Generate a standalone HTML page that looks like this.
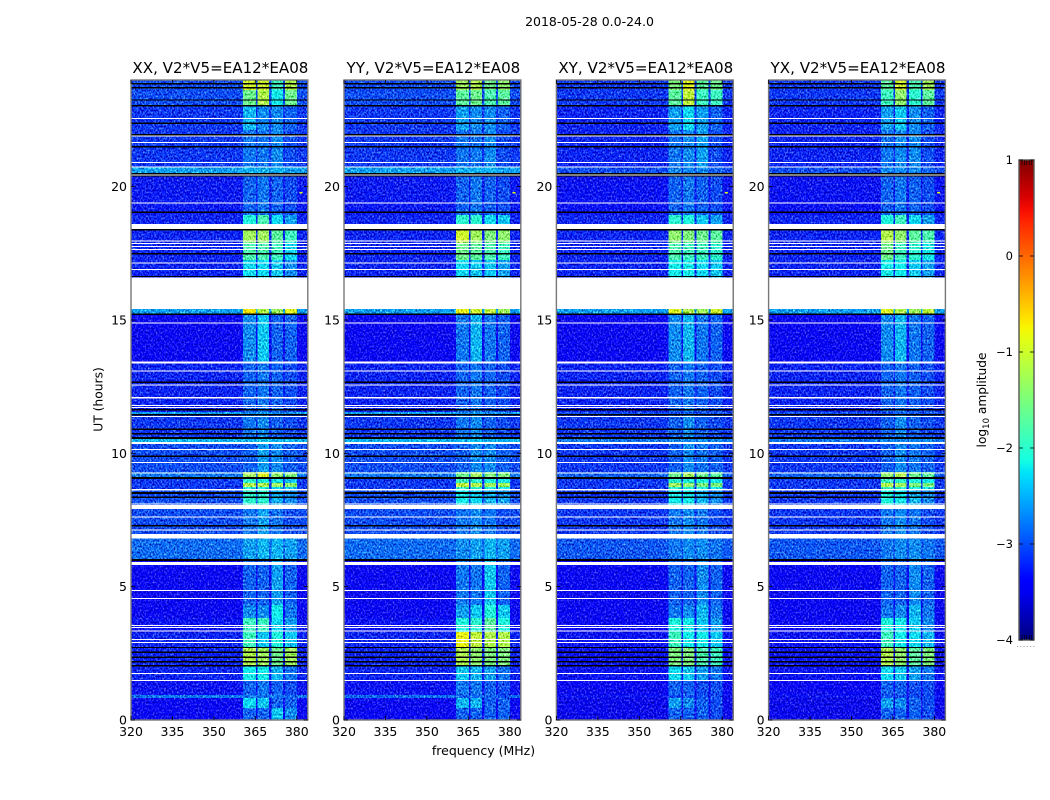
<!DOCTYPE html>
<html>
<head>
<meta charset="utf-8">
<title>2018-05-28 0.0-24.0</title>
<style>
html,body{margin:0;padding:0;background:#fff;}
svg{display:block;font-family:"DejaVu Sans","Liberation Sans",sans-serif;}
</style>
</head>
<body>
<svg id="figure" width="1050" height="800" viewBox="0 0 1050 800" xmlns="http://www.w3.org/2000/svg">
  <defs>
    <filter id="speckle" x="0" y="0" width="1" height="1" color-interpolation-filters="sRGB">
      <feTurbulence type="fractalNoise" baseFrequency="0.62 0.5" numOctaves="2" seed="7" result="n"/>
      <feColorMatrix in="n" type="matrix" values="1.6 0 0 0 -0.3  1.6 0 0 0 -0.3  1.6 0 0 0 -0.3  0 0 0 0 1" result="g"/>
      <feComposite in="SourceGraphic" in2="g" operator="arithmetic" k1="0" k2="1" k3="0.8" k4="-0.4"/>
    </filter>
    <linearGradient id="cbar-gradient" x1="0" y1="1" x2="0" y2="0"></linearGradient>
  </defs>
  <rect x="0" y="0" width="1050" height="800" fill="#fff"/>
  <text x="589.500" y="26" font-size="12.5" text-anchor="middle" fill="#000">2018-05-28 0.0-24.0</text>
  <text x="483.500" y="755" font-size="12.5" text-anchor="middle" fill="#000">frequency (MHz)</text>
  <text x="0" y="0" font-size="12.3" text-anchor="middle" fill="#000" transform="translate(102.500,399.500) rotate(-90)">UT (hours)</text>
  <g id="panels"></g>
  <g id="colorbar"></g>
  <text x="0" y="0" font-size="12.2" text-anchor="middle" fill="#000" transform="translate(986,400) rotate(-90)">log<tspan font-size="8.5" dy="3">10</tspan><tspan dy="-3"> amplitude</tspan></text>
</svg>
<script>
// ---- data ----
const panelTitles = ["XX, V2*V5=EA12*EA08","YY, V2*V5=EA12*EA08","XY, V2*V5=EA12*EA08","YX, V2*V5=EA12*EA08"];
const freqTicks = [320,335,350,365,380];
const utTicks = [0,5,10,15,20];
const cbarTicks = [1,0,-1,-2,-3,-4];
// frequency edges (MHz): background, then spectral windows separated by small gaps
const freqEdges = [320,360.6,365.3,365.8,370,370.8,375.1,375.8,380.1,384];
// which level column each frequency interval uses (0 = background, 1..4 = windows)
const freqColumn = [0,1,0,2,0,3,0,4,0];
// UT row edges (hours)
const utEdges = [24,23.62,23.03,22.12,20.74,20.51,18.94,18.6,17.9,17.25,15.41,15.22,13.43,11.55,11.44,10.54,10.39,9.3,9.08,8.89,8.74,8.63,8.06,6.98,6,4.31,3.83,3.3,2.74,2.06,1.5,0.94,0.83,0.45,0];
// log10 amplitude per row: [background, win1, win2, win3, win4]
const xxLevels = [
[-3.0,-1.0,-1.0,-1.9,-1.2],[-3.0,-1.6,-1.2,-2.2,-1.6],[-3.1,-2.5,-2.7,-2.7,-2.9],[-3.1,-2.8,-2.8,-2.7,-3.0],
[-2.6,-2.5,-2.5,-2.5,-2.6],[-3.25,-2.9,-2.8,-2.9,-3.0],[-3.2,-2.1,-1.8,-2.3,-2.6],[-3.2,-1.3,-1.3,-1.7,-1.9],
[-3.2,-1.8,-1.8,-1.9,-2.3],[-3.2,-2.3,-2.3,-2.4,-2.7],[-2.6,-0.7,-1.2,-1.3,-0.9],[-3.4,-2.7,-2.4,-2.9,-2.9],
[-3.2,-2.9,-2.8,-2.9,-3.0],[-2.6,-2.7,-2.6,-2.7,-2.7],[-3.1,-2.8,-2.7,-2.9,-3.0],[-2.5,-2.5,-2.4,-2.5,-2.5],
[-3.0,-2.9,-2.6,-2.7,-2.9],[-2.8,-1.3,-0.9,-1.4,-1.5],[-3.1,-2.0,-2.1,-2.2,-2.4],[-3.1,-1.2,-1.2,-1.3,-1.4],
[-3.1,-2.1,-2.1,-2.3,-2.4],[-3.0,-2.0,-2.0,-2.5,-2.7],[-3.0,-2.8,-2.6,-2.8,-3.0],[-2.85,-2.6,-2.5,-2.5,-2.6],
[-3.4,-2.9,-2.9,-2.6,-2.9],[-3.4,-2.7,-2.7,-2.2,-2.8],[-3.3,-1.9,-1.9,-2.3,-2.6],[-3.2,-1.9,-2.4,-2.1,-2.4],
[-3.2,-1.2,-1.3,-1.6,-1.3],[-3.2,-2.2,-2.2,-2.5,-2.8],[-3.3,-2.9,-2.8,-2.9,-3.0],[-2.8,-2.8,-2.8,-2.8,-2.9],
[-3.4,-2.3,-2.4,-2.9,-2.9],[-3.4,-2.9,-2.9,-2.4,-2.7]];
const yyLevels = [
[-3.0,-1.3,-1.2,-1.6,-1.4],[-3.0,-1.7,-1.6,-1.8,-1.7],[-3.1,-2.6,-2.7,-2.7,-2.9],[-3.1,-2.8,-2.8,-2.7,-3.0],
[-2.6,-2.5,-2.5,-2.5,-2.6],[-3.25,-2.9,-2.8,-2.9,-3.0],[-3.2,-2.0,-2.0,-2.3,-2.4],[-3.2,-1.0,-1.3,-1.5,-1.4],
[-3.2,-1.6,-1.7,-1.8,-1.9],[-3.2,-2.3,-2.4,-2.4,-2.6],[-2.6,-0.8,-1.0,-1.1,-1.3],[-3.4,-2.8,-2.5,-2.8,-2.9],
[-3.2,-2.9,-2.8,-2.9,-3.0],[-2.6,-2.7,-2.6,-2.7,-2.7],[-3.1,-2.8,-2.7,-2.9,-3.0],[-2.5,-2.5,-2.4,-2.5,-2.5],
[-3.0,-2.9,-2.7,-2.7,-2.9],[-2.8,-1.6,-1.3,-1.5,-1.5],[-3.1,-1.9,-2.0,-2.1,-2.2],[-3.1,-1.1,-1.2,-1.3,-1.3],
[-3.1,-1.9,-2.0,-2.1,-2.2],[-3.0,-2.2,-2.3,-2.5,-2.6],[-3.0,-2.8,-2.7,-2.8,-3.0],[-2.85,-2.7,-2.6,-2.5,-2.6],
[-3.4,-2.8,-2.8,-2.4,-2.9],[-3.4,-2.6,-2.4,-2.1,-2.4],[-3.3,-2.1,-2.0,-1.7,-2.1],[-3.2,-0.8,-1.1,-1.2,-1.2],
[-3.2,-1.2,-1.4,-1.5,-1.5],[-3.2,-2.4,-2.5,-2.6,-2.8],[-3.3,-2.8,-2.8,-2.9,-3.0],[-2.85,-2.9,-2.9,-2.9,-3.0],
[-3.4,-2.5,-2.5,-2.9,-2.9],[-3.4,-2.9,-2.9,-2.9,-2.9]];
const xyLevels = [
[-3.1,-1.5,-0.9,-1.7,-1.6],[-3.1,-1.7,-1.1,-1.9,-1.9],[-3.2,-2.6,-2.3,-2.6,-2.9],[-3.2,-2.8,-2.7,-2.6,-3.0],
[-3.0,-2.7,-2.7,-2.7,-2.9],[-3.3,-2.9,-2.8,-2.9,-3.0],[-3.2,-2.0,-2.1,-2.4,-2.6],[-3.2,-1.4,-1.5,-1.6,-1.7],
[-3.2,-1.8,-1.9,-1.9,-2.0],[-3.2,-2.2,-2.2,-2.3,-2.4],[-2.6,-0.9,-1.2,-1.3,-1.0],[-3.4,-2.7,-2.5,-2.8,-2.9],
[-3.2,-2.9,-2.8,-2.9,-3.0],[-3.0,-3.0,-2.9,-3.0,-3.0],[-3.1,-2.9,-2.7,-2.9,-3.0],[-2.8,-2.7,-2.7,-2.7,-2.7],
[-3.1,-2.9,-2.7,-2.8,-2.9],[-2.9,-1.6,-1.3,-1.6,-1.7],[-3.1,-2.0,-2.1,-2.1,-2.2],[-3.1,-1.3,-1.4,-1.5,-1.5],
[-3.1,-2.0,-2.1,-2.1,-2.2],[-3.1,-2.2,-2.2,-2.5,-2.7],[-3.1,-2.8,-2.7,-2.8,-3.0],[-2.95,-2.8,-2.7,-2.7,-2.8],
[-3.4,-2.9,-2.9,-2.7,-2.9],[-3.4,-2.8,-2.7,-2.5,-2.8],[-3.4,-2.1,-2.2,-2.4,-2.6],[-3.3,-1.9,-2.2,-2.2,-2.4],
[-3.3,-1.5,-1.5,-1.8,-1.9],[-3.3,-2.3,-2.4,-2.6,-2.8],[-3.4,-2.9,-2.9,-3.0,-3.0],[-3.3,-3.0,-3.0,-3.0,-3.0],
[-3.5,-2.6,-2.7,-2.9,-3.0],[-3.5,-2.9,-2.9,-2.9,-3.0]];
const yxLevels = [
[-3.1,-1.7,-1.0,-1.8,-1.3],[-3.1,-1.9,-1.4,-2.0,-1.7],[-3.2,-2.6,-2.4,-2.7,-2.9],[-3.2,-2.8,-2.7,-2.7,-3.0],
[-3.0,-2.7,-2.7,-2.7,-2.9],[-3.3,-2.9,-2.8,-2.9,-3.0],[-3.2,-2.1,-1.9,-2.3,-2.6],[-3.2,-1.2,-1.4,-1.7,-1.8],
[-3.2,-1.6,-1.9,-2.0,-2.2],[-3.2,-2.2,-2.2,-2.4,-2.6],[-2.6,-0.9,-1.2,-1.3,-1.1],[-3.4,-2.7,-2.5,-2.8,-2.9],
[-3.2,-2.9,-2.8,-2.9,-3.0],[-3.0,-3.0,-2.9,-3.0,-3.0],[-3.1,-2.9,-2.7,-2.9,-3.0],[-2.8,-2.7,-2.7,-2.7,-2.7],
[-3.1,-2.9,-2.7,-2.8,-2.9],[-2.9,-1.4,-1.2,-1.6,-1.7],[-3.1,-1.9,-2.0,-2.1,-2.2],[-3.1,-1.2,-1.3,-1.5,-1.5],
[-3.1,-1.9,-2.0,-2.1,-2.2],[-3.1,-2.1,-2.2,-2.5,-2.7],[-3.1,-2.8,-2.7,-2.8,-3.0],[-2.95,-2.8,-2.7,-2.7,-2.8],
[-3.4,-2.9,-2.9,-2.7,-2.9],[-3.4,-2.8,-2.7,-2.5,-2.8],[-3.4,-2.1,-2.2,-2.4,-2.7],[-3.3,-1.9,-2.2,-2.3,-2.5],
[-3.3,-1.2,-1.4,-1.7,-1.5],[-3.3,-2.3,-2.4,-2.6,-2.8],[-3.4,-2.9,-2.9,-3.0,-3.0],[-3.3,-3.0,-3.0,-3.0,-3.0],
[-3.5,-2.6,-2.7,-2.9,-3.0],[-3.5,-2.9,-2.9,-2.9,-3.0]];
const panelLevels = [xxLevels,yyLevels,xyLevels,yxLevels];
// isolated bright sample: frequency, UT, level
const spotFreq = [381];
const spotUt = [19.8];
const spotLevel = [-0.9];
// flagged samples (hours)
const whiteLines = [22.56,21.9,21.66,20.91,20.74,20.44,19.38,17.96,17.87,17.75,17.65,17.13,16.9,14.88,13.08,12.57,11.79,11.72,11.39,10.15,9.66,9.27,8.1,7.62,7.12,4.86,4.56,3.54,3.47,3.34,3.01,2.9,1.75,1.49];
const whiteBlockStart = [18.6,16.59,13.44,12.12,10.43,8.66,8.06,6.98,5.92];
const whiteBlockEnd = [18.4,15.41,13.37,12.05,10.35,8.6,7.91,6.8,5.82];
const blackLines = [23.86,23.71,23.25,23.03,22.38,21.94,21.49,20.48,20.4,19.04,18.38,17.48,16.63,15.22,12.67,11.64,11.44,10.91,10.74,9.89,8.36,7.29,2.72,2.54,2.36,2.19,2.03];
const blackBlockStart = [10.62,9.11,8.55,6.04];
const blackBlockEnd = [10.54,9.03,8.47,5.96];

// ---- layout ----
const panelLeft = [131,344,556.4,768.6];
const panelW = 176.8, plotTop = 80, plotBottom = 720;
const NS = "http://www.w3.org/2000/svg";
function make(tag, parent, attrs){
  const e = document.createElementNS(NS, tag);
  for (const k in attrs) e.setAttribute(k, attrs[k]);
  parent.appendChild(e);
  return e;
}
// ---- axis functions ----
function xScale(f, left){ return left + (f - 320) / (384 - 320) * panelW; }
function yScale(h){ return plotBottom - h / 24 * (plotBottom - plotTop); }
function ramp(t, pts){
  for (let i = 1; i < pts.length; i++) {
    if (t <= pts[i][0]) {
      const a = pts[i-1], b = pts[i];
      return a[1] + (b[1]-a[1]) * (t-a[0]) / (b[0]-a[0]);
    }
  }
  return pts[pts.length-1][1];
}
function jet(v){
  const t = Math.max(0, Math.min(1, (v + 4) / 5));
  const r = ramp(t, [[0,0],[0.35,0],[0.66,1],[0.89,1],[1,0.5]]);
  const g = ramp(t, [[0,0],[0.125,0],[0.375,1],[0.64,1],[0.91,0],[1,0]]);
  const b = ramp(t, [[0,0.5],[0.11,1],[0.34,1],[0.65,0],[1,0]]);
  return "rgb(" + Math.round(r*255) + "," + Math.round(g*255) + "," + Math.round(b*255) + ")";
}
const root = document.getElementById("panels");
panelTitles.forEach(function(title, p){
  const left = panelLeft[p];
  const right = left + panelW;
  const key = title.slice(0,2).toLowerCase();
  const g = make("g", root, {});
  
  
  const heat = make("g", g, {filter:"url(#speckle)", "shape-rendering":"crispEdges"});
  
  
  panelLevels[p].forEach(function(row, r){
    const y0 = yScale(utEdges[r]), y1 = yScale(utEdges[r+1]);
    freqColumn.forEach(function(col, c){
      const x0 = xScale(freqEdges[c], left), x1 = xScale(freqEdges[c+1], left);
      const cell = make("rect", heat, {x:x0, y:y0, width:x1-x0+0.5, height:y1-y0+0.5, fill:jet(row[col])});
      
      
    });
  });
  spotFreq.forEach(function(f, i){
    const s = make("rect", g, {x:xScale(f,left), y:yScale(spotUt[i]), width:3, height:1.5, fill:jet(spotLevel[i])});
    
    
  });
  const flags = make("g", g, {"shape-rendering":"crispEdges"});
  
  
  whiteBlockStart.forEach(function(h, i){
    const b = make("rect", flags, {x:left, y:yScale(h), width:panelW, height:yScale(whiteBlockEnd[i])-yScale(h), fill:"#fff"});
    
    
  });
  whiteLines.forEach(function(h){
    const b = make("rect", flags, {x:left, y:yScale(h)-0.5, width:panelW, height:1, fill:"#fff"});
    
    
  });
  blackLines.forEach(function(h){
    const b = make("rect", flags, {x:left, y:yScale(h)-0.7, width:panelW, height:1.4, fill:"#000"});
    
    
  });
  blackBlockStart.forEach(function(h, i){
    const b = make("rect", flags, {x:left, y:yScale(h), width:panelW, height:yScale(blackBlockEnd[i])-yScale(h), fill:"#000"});
    
    
  });
  const frame = make("rect", g, {x:left, y:plotTop, width:panelW, height:plotBottom-plotTop, fill:"none", stroke:"#777", "stroke-width":1.4});
  
  
  const t = make("text", g, {x:left+panelW/2+1, y:73, "font-size":15.1, "text-anchor":"middle", fill:"#000"});
  t.textContent = title;
  
  
  freqTicks.forEach(function(f){
    const x = xScale(f, left);
    [[plotBottom, plotBottom-4],[plotTop, plotTop+4]].forEach(function(e){
      const m = make("line", g, {x1:x, x2:x, y1:e[0], y2:e[1], stroke:"#000", "stroke-width":0.8});
      
      
    });
    const l = make("text", g, {x:x, y:736, "font-size":12.5, "text-anchor":"middle", fill:"#000"});
    l.textContent = f;
    
    
  });
  utTicks.forEach(function(h){
    const y = yScale(h);
    [[left, left+4],[right, right-4]].forEach(function(e){
      const m = make("line", g, {x1:e[0], x2:e[1], y1:y, y2:y, stroke:"#000", "stroke-width":0.8});
      
      
    });
    const l = make("text", g, {x:left-4, y:y+4.5, "font-size":12.5, "text-anchor":"end", fill:"#000"});
    l.textContent = h;
    
    
  });
});

// ---- colorbar ----
const cbar = document.getElementById("colorbar");
const grad = document.getElementById("cbar-gradient");
for (let i = 0; i <= 40; i++) {
  make("stop", grad, {offset:(i/40), "stop-color":jet(-4 + i/8)});
}
const cbX = 1019, cbW = 15, cbTop = 160, cbBottom = 640;
function cbScale(v){ return cbBottom - (v + 4) / 5 * (cbBottom - cbTop); }
const cbRect = make("rect", cbar, {x:cbX, y:cbTop, width:cbW, height:cbBottom-cbTop, fill:"url(#cbar-gradient)", stroke:"#555", "stroke-width":1.4});


cbarTicks.forEach(function(v){
  const y = cbScale(v);
  [[cbX, cbX+4],[cbX+cbW, cbX+cbW-4]].forEach(function(e){
    const m = make("line", cbar, {x1:e[0], x2:e[1], y1:y, y2:y, stroke:"#000", "stroke-width":0.8});
    
    
  });
  const l = make("text", cbar, {x:1013, y:y+4, "font-size":11.5, "text-anchor":"end", fill:"#000"});
  l.textContent = v < 0 ? "\u2212" + Math.abs(v) : String(v);
  
  
});
for (let i = 0; i < 5; i++) {
  const x = cbX + 3 + i * 2.4;
  const a = make("line", cbar, {x1:x, x2:x, y1:cbTop, y2:cbTop+5, stroke:"#000", "stroke-width":0.6});
  
  
  const b = make("line", cbar, {x1:x, x2:x, y1:cbBottom, y2:cbBottom-5, stroke:"#000", "stroke-width":0.6});
  
  
}
for (let i = 0; i < 6; i++) {
  const d = make("rect", cbar, {x:cbX - 2 + i * 3.3, y:646, width:1, height:1, fill:"#999"});
  
  
}
</script>
</body>
</html>
